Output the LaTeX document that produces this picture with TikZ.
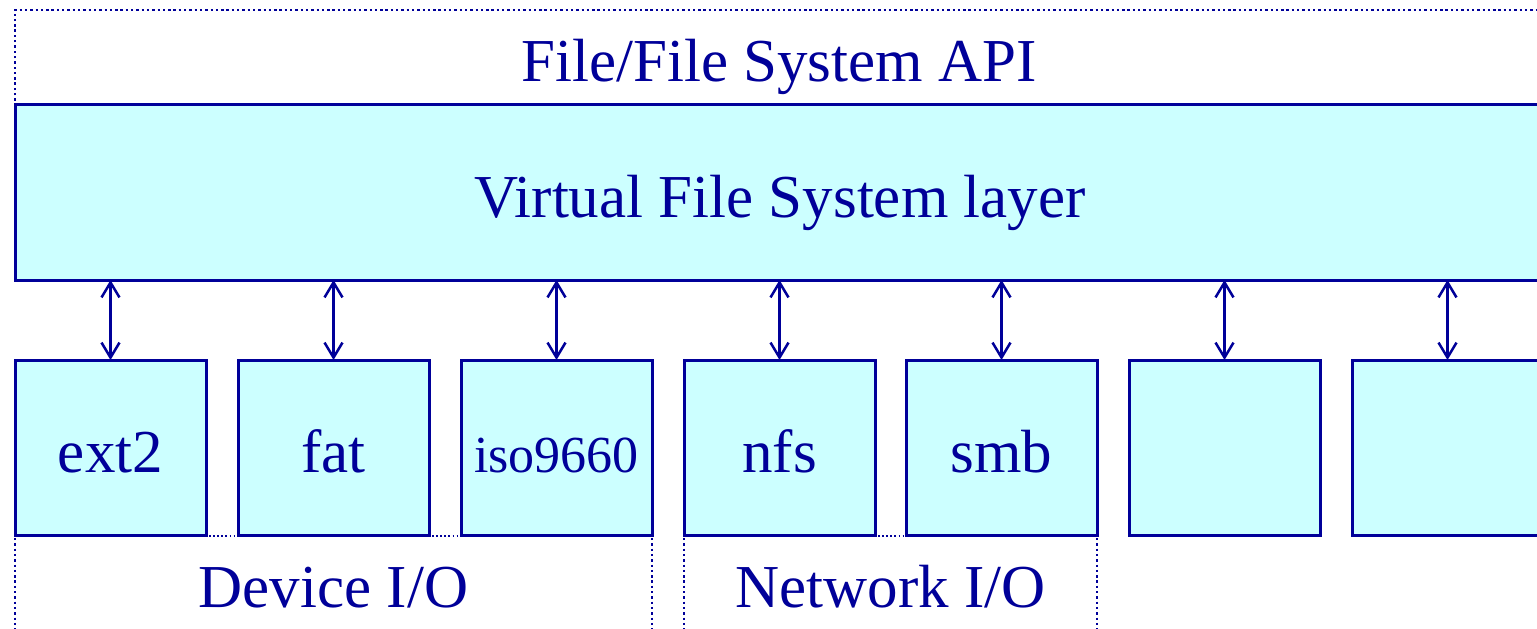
\documentclass[tikz,border=0pt]{standalone}
\usepackage{fontspec}
\setmainfont{Liberation Serif}
\usetikzlibrary{arrows.meta}
\definecolor{ink}{HTML}{000099}
\definecolor{cyanfill}{HTML}{CCFFFF}
\begin{document}
\begin{tikzpicture}[x=1pt,y=-1pt,
  every node/.style={text=ink},
  txt/.style={font=\fontsize{61}{61}\selectfont, inner sep=0pt},
  layerbox/.style={draw=ink, fill=cyanfill, line width=3pt, inner sep=0pt, outer sep=0pt,
    font=\fontsize{61}{61}\selectfont, text height=55pt, text depth=5pt},
  fsbox/.style={layerbox, minimum width=191pt, minimum height=175pt},
  link/.style={draw=ink, line width=2.5pt, {Straight Barb[length=15pt,width=18pt,line width=2.5pt]}-{Straight Barb[length=15pt,width=18pt,line width=2.5pt]}},
  frame/.style={draw=ink, line width=2.6pt, dash pattern=on 2.4pt off 2.9pt},
  gap/.style={draw=ink, line width=2pt, dash pattern=on 1.8pt off 2.3pt}]
\clip (0,0) rectangle (1537,629);
\useasboundingbox (0,0) rectangle (1537,629);
\fill[white] (0,0) rectangle (1537,629);

% API label and the dotted frame around it
\node[txt, anchor=base] (api) at (779,81) {File/File System API};

% Virtual File System layer
\node[layerbox, minimum width=1530pt, minimum height=176pt] (vfs) at (780,192) {Virtual File System layer};
\coordinate (frametop) at (15,10);
\coordinate (frameend) at (1545,10);
\draw[frame] ([yshift=-2pt]vfs.north west) -- (frametop) -- (frameend);

% File system boxes
\node[fsbox] (b1) at (110.5,447.5) {ext2};
\node[fsbox] (b2) at (333.5,447.5) {fat};
\node[fsbox, font=\fontsize{52}{52}\selectfont] (b3) at (556.5,447.5) {iso9660};
\node[fsbox] (b4) at (779.5,447.5) {nfs};
\node[fsbox] (b5) at (1001.5,447.5) {smb};
\node[fsbox] (b6) at (1224.5,447.5) {};
\node[fsbox] (b7) at (1447.5,447.5) {};

% Links between the VFS layer and each file system
\foreach \b in {b1,b2,b3,b4,b5,b6,b7}
  \draw[link] (\b.north |- vfs.south) -- (\b.north);

% Dotted joins along the bottom of grouped boxes
\draw[gap] ([xshift=3pt,yshift=-0.5pt]b1.south east) -- ([xshift=-3pt,yshift=-0.5pt]b2.south west);
\draw[gap] ([xshift=3pt,yshift=-0.5pt]b2.south east) -- ([xshift=-3pt,yshift=-0.5pt]b3.south west);
\draw[gap] ([xshift=3pt,yshift=-0.5pt]b4.south east) -- ([xshift=-3pt,yshift=-0.5pt]b5.south west);

% Group boundaries
\coordinate (d1) at (b1.south west |- 0,635);
\coordinate (d2) at (b3.south east |- 0,635);
\coordinate (n1) at (b4.south west |- 0,635);
\coordinate (n2) at (b5.south east |- 0,635);
\draw[frame] ([yshift=-3pt]b1.south west) -- (d1);
\draw[frame] ([yshift=-3pt]b3.south east) -- (d2);
\draw[frame] ([yshift=-3pt]b4.south west) -- (n1);
\draw[frame] ([yshift=-3pt]b5.south east) -- (n2);

\node[txt, anchor=base] (dev) at (333.5,607) {Device I/O};
\node[txt, anchor=base] (net) at (890.5,607) {Network I/O};
\end{tikzpicture}
\end{document}
